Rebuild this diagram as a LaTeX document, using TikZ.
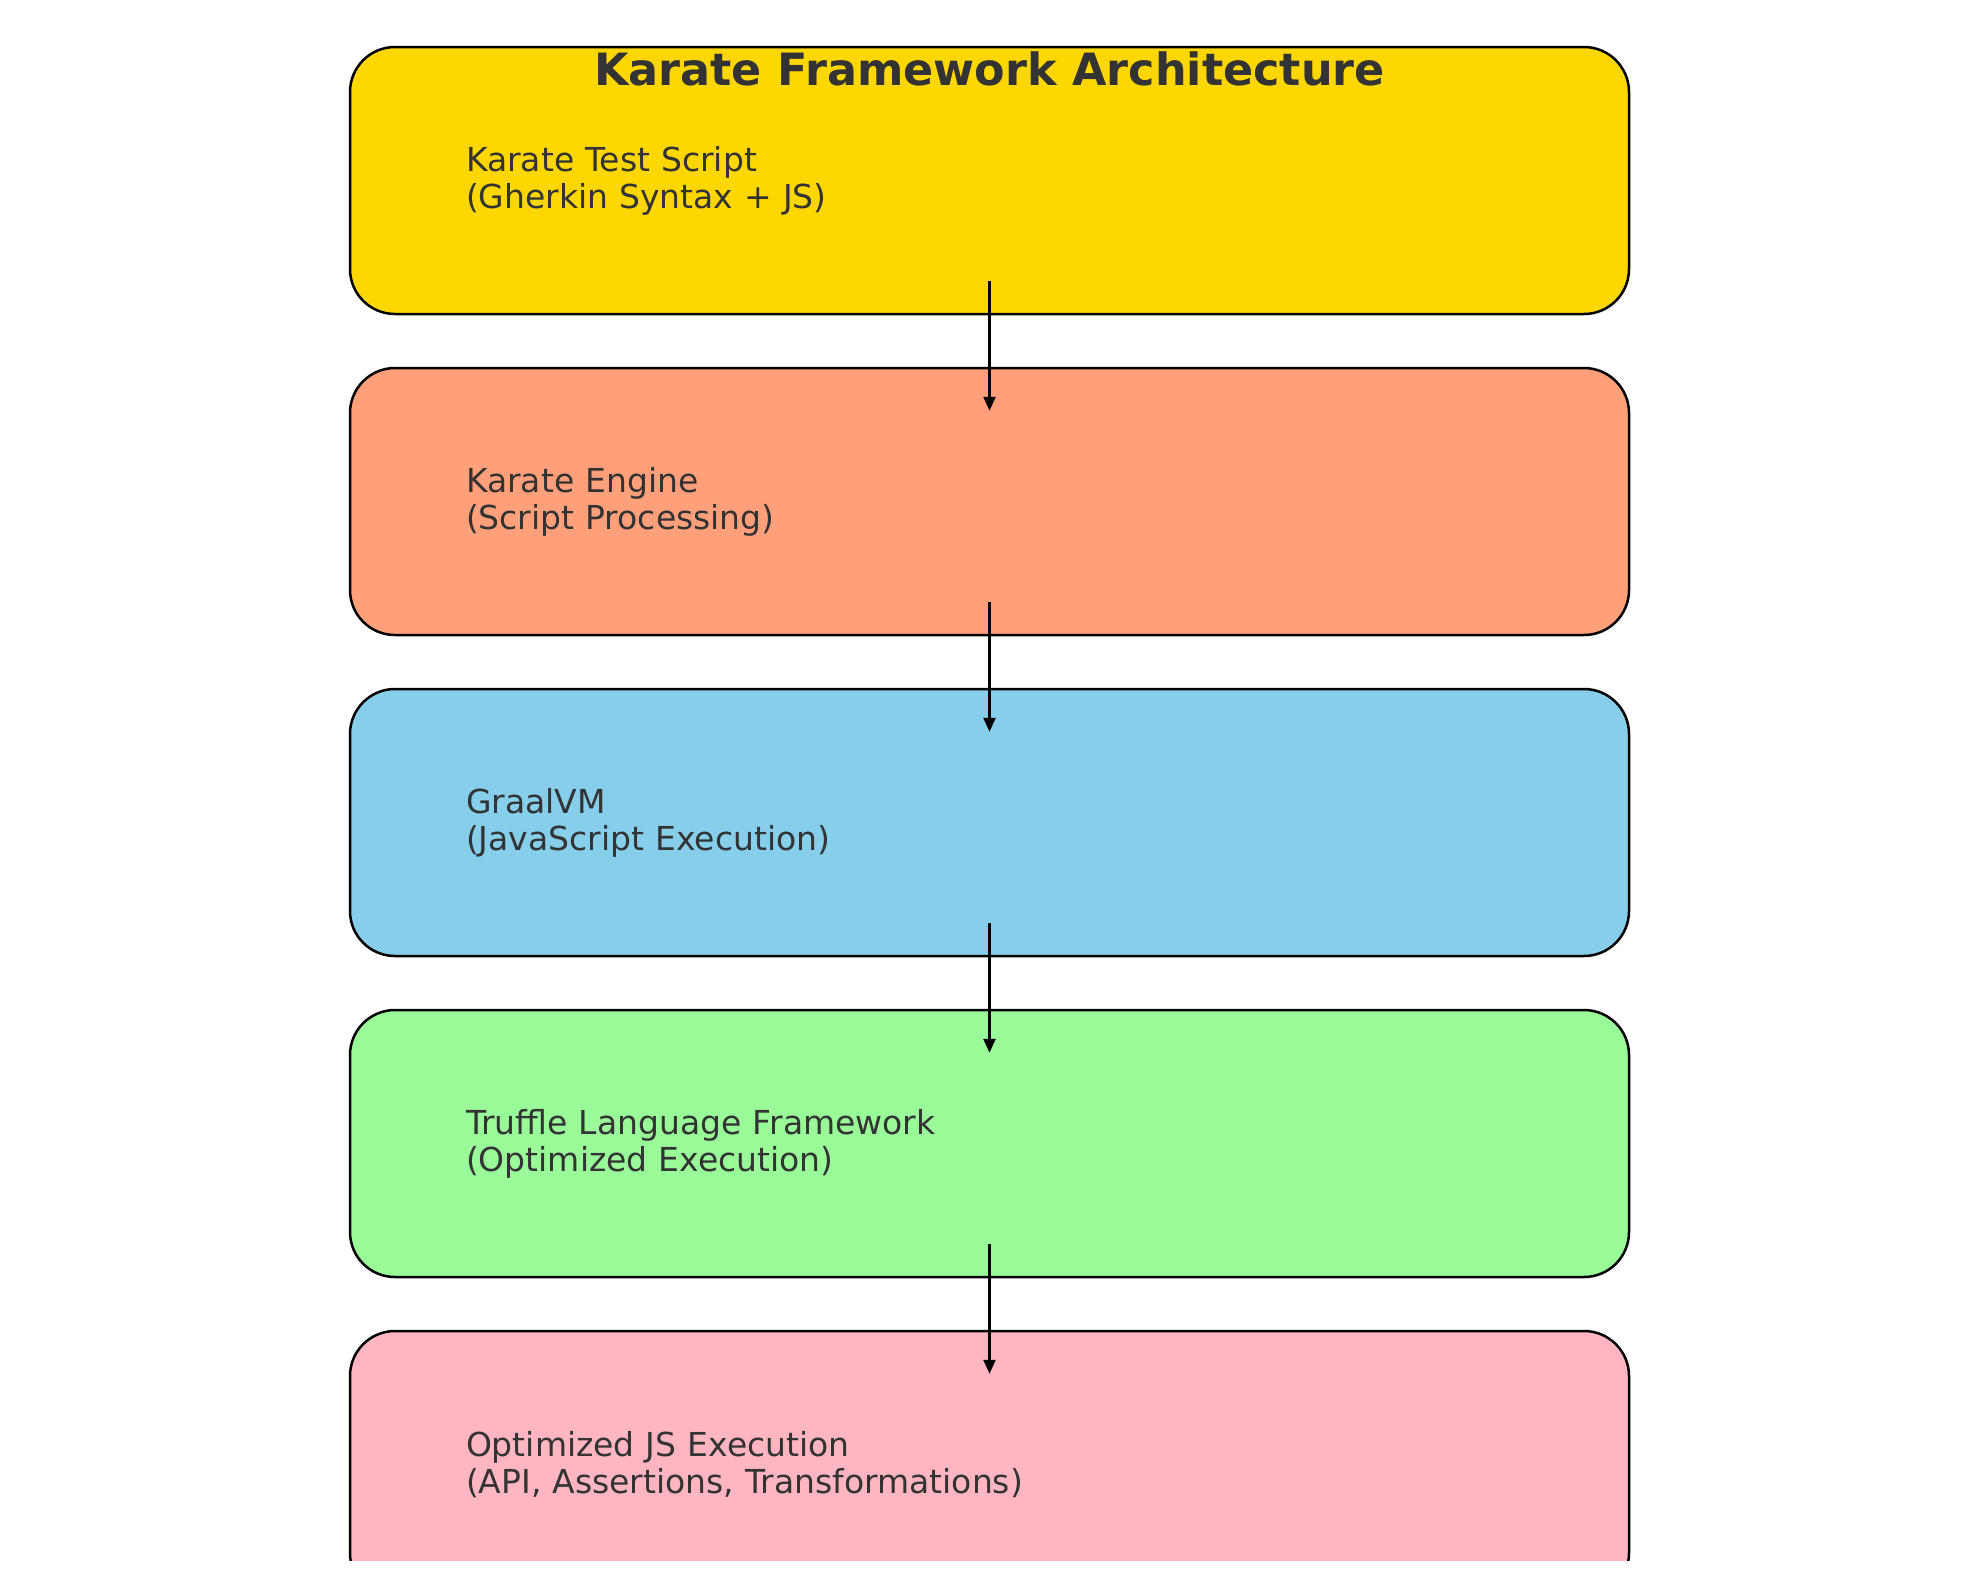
\documentclass[tikz,border=0pt]{standalone}
\usepackage{fontspec}
\setmainfont{DejaVu Sans}
\usepackage{tikz}
\usetikzlibrary{
        positioning,
        arrows.meta
    }
\definecolor{scriptyellow}{HTML}{FFD700}
\definecolor{enginesalmon}{HTML}{FFA07A}
\definecolor{graalblue}{HTML}{87CEEB}
\definecolor{trufflegreen}{HTML}{98FB98}
\definecolor{jspink}{HTML}{FFB6C1}
\definecolor{textgray}{HTML}{333333}

\begin{document}
\begin{tikzpicture}
[x=1pt, y=-1pt,
baseshape/.style={rectangle, rounded corners=45pt, minimum width=1279pt, minimum height=267pt, text width=1047pt, inner xsep=116pt, inner ysep=0pt, align=left, font=\fontsize{33}{37}\selectfont, text=textgray, draw=black, line width=2.5pt},
scriptbox/.style={baseshape, fill=scriptyellow},
enginebox/.style={baseshape, fill=enginesalmon},
graalbox/.style={baseshape, fill=graalblue},
trufflebox/.style={baseshape, fill=trufflegreen},
jsbox/.style={baseshape, fill=jspink},
titletext/.style={font=\fontsize{44.5}{54}\selectfont\bfseries, text=textgray, anchor=base, inner sep=0pt},
arrow/.style={line width=2.5pt, -{Triangle[length=14pt, width=12pt]}},
node distance=51.5pt,]
\useasboundingbox (0,0) rectangle (1979,1580);
\begin{scope}
\clip (0,0) rectangle (1979,1560);
\node (script) [scriptbox] at (989.5, 180.5){Karate Test Script\\(Gherkin Syntax + JS)};
\node (engine) [enginebox, below=of script]{Karate Engine\\(Script Processing)};
\node (graal) [graalbox, below=of engine]{GraalVM\\(JavaScript Execution)};
\node (truffle) [trufflebox, below=of graal]{Truffle Language Framework\\(Optimized Execution)};
\node (optjs) [jsbox, below=of truffle]{Optimized JS Execution\\(API, Assertions, Transformations)};

\draw [arrow] ([yshift=34pt]script.south) -- ([yshift=-44pt]engine.north);
\draw [arrow] ([yshift=34pt]engine.south) -- ([yshift=-44pt]graal.north);
\draw [arrow] ([yshift=34pt]graal.south) -- ([yshift=-44pt]truffle.north);
\draw [arrow] ([yshift=34pt]truffle.south) -- ([yshift=-44pt]optjs.north);
\end{scope}

\node (title) [titletext] at (989.5, 85){Karate Framework Architecture};

\end{tikzpicture}
\end{document}
